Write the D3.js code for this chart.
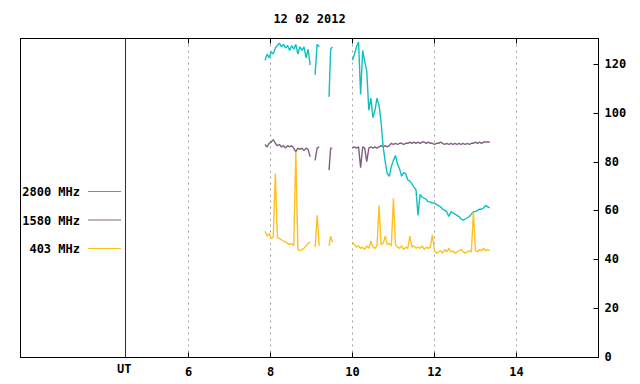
<!DOCTYPE html>
<html><head><meta charset="utf-8">
<script src="https://cdn.jsdelivr.net/npm/d3@7"></script>
<style>body{margin:0;background:#fff}svg text{font-family:"DejaVu Sans Mono",monospace;font-weight:bold;font-size:12px;fill:#000}</style>
</head><body><svg id="c" width="640" height="384"></svg>
<script>
const title = "12 02 2012";
const times = [
7.87,7.92,7.97,8.02,8.07,8.12,8.17,8.22,8.27,8.32,8.37,8.42,8.47,8.52,8.57,8.62,8.67,8.72,8.77,8.82,8.87,8.92,8.97,
9.03,
9.09,9.14,9.19,
9.30,
9.43,9.47,9.51,
9.75,
10.00,10.05,10.10,10.15,10.20,10.25,10.30,10.35,10.40,10.45,10.50,10.55,10.60,10.65,10.70,10.75,10.80,10.85,10.90,10.95,
11.00,11.05,11.10,11.15,11.20,11.25,11.30,11.35,11.40,11.45,11.50,11.55,11.60,11.65,11.70,11.75,11.80,11.85,11.90,11.95,
12.00,12.05,12.10,12.15,12.20,12.25,12.30,12.35,12.40,12.45,12.50,12.55,12.60,12.65,12.70,12.75,12.80,12.85,12.90,12.95,
13.00,13.05,13.10,13.15,13.20,13.25,13.30,13.35];
const s2800 = [
121.5,124,122.5,125,124,126.5,127.5,128.5,127,128,126.5,127.5,125.5,127.5,126,128,124,127,125.5,127,122.5,126,119.5,
null,
115.5,128,127,
null,
106.5,126,127,
null,
121.5,124,127,129,107.5,125.5,121,117,101,106,98,101,106,103,96,86,80,75,74,78,
80.5,82.5,79,77,74,75.5,75,72.5,72,71,69.5,68.5,58,66.5,65.5,65,64.5,63.5,63.5,63,
63,62.5,62,61.5,60.5,60,59.5,57.5,59.5,59,58.5,58,57.5,56.5,56,56.5,57,57.5,58.5,59.5,
59.5,60,60.5,60.5,61,62,61.5,61];
const s1580 = [
87,86,87.5,88,89,87.5,86.5,87,86,86.5,85.5,86.5,86,86.5,85.5,84,85.5,85,85.5,84.5,85.5,85,82,
null,
80.5,85.5,86,
null,
76.5,85.5,85.5,
null,
85.5,86,85.5,86,77.5,86,85.5,80,85.5,86,85.5,86,85.5,86,86.5,86,86.5,86,86.5,87.5,
87,87.5,87,87.5,87.5,87,87.5,87.5,88,87.5,88,87.5,88,87.5,88,88,87.5,88,87.5,87.5,
87,87.5,87.5,88,87.5,87,87.5,87,87.5,87,87.5,87,87.5,87,87.5,87,87.5,87,87.5,87.5,
88,87.5,88,87.5,88,88,88,88];
const s403 = [
51.5,49.5,50.5,48.5,49,75,49,48.5,48,47.5,47,46.5,46,46.5,45.5,84,44,43.5,44,44.5,45.5,46.5,47,
null,
45,58,45.5,
null,
45.5,49.5,47,
null,
47,46,45,45.5,44.5,45,44,45.5,44.5,47.5,45,44.5,45.5,62,46,46.5,49.5,46,46.5,45.5,
65,46,45,44.5,45.5,44,45,44.5,49.5,45,45.5,44.5,45,44.5,45.5,44,45,44.5,45,50,
43.5,42.5,43,43.5,42.5,44,43,44.5,43,43.5,42.5,43,43.5,44,43,42.5,43,43.5,43,59.5,
43.5,43,44,43.5,44.5,43.5,44,43.5];
const xTicks = [6,8,10,12,14];
const yTicks = [0,20,40,60,80,100,120];
const utLabel = "UT";
const utHour = 4.46;
const legendLabels = ["2800 MHz","1580 MHz","403 MHz"];
const colors = ["#10c0c0","#806080","#ffc020"];

const svg = d3.select("#c");
const L = 20.5, R = 598.5, T = 38.5, B = 357.5;
const x = d3.scaleLinear().domain([1.92, 16]).range([21, 598.5]);
const y = d3.scaleLinear().domain([0, 130.6]).range([357, 38]);
const px = v => Math.round(x(v)) + 0.5;

// grid
svg.append("g").selectAll("line").data(xTicks).join("line")
  .attr("x1", px).attr("x2", px).attr("y1", T).attr("y2", B)
  .attr("stroke", "#a0a0a0").attr("stroke-dasharray", "2,4");

// UT separator
svg.append("line").attr("x1", px(utHour)).attr("x2", px(utHour)).attr("y1", T).attr("y2", B)
  .attr("stroke", "#990000");
svg.append("text").attr("x", x(utHour) - 1).attr("y", 373).attr("text-anchor", "middle").text(utLabel);

// series
const series = [
  {name: legendLabels[1], vals: s1580, color: colors[1]},
  {name: legendLabels[0], vals: s2800, color: colors[0]},
  {name: legendLabels[2], vals: s403, color: colors[2]}
];
const line = d3.line().defined(d => d[1] != null).x(d => x(d[0])).y(d => y(d[1]));
series.forEach(s => {
  svg.append("path").datum(times.map((t, i) => [t, s.vals[i]]))
    .attr("d", line).attr("fill", "none").attr("stroke", s.color).attr("stroke-width", 1.4)
    .attr("stroke-linejoin", "bevel");
});

// axes
const gb = svg.append("g").attr("transform", `translate(0,${B})`)
  .call(d3.axisBottom(x).tickValues(xTicks).tickSize(-5).tickPadding(10).tickFormat(d3.format("d")));
const gt = svg.append("g").attr("transform", `translate(0,${T})`)
  .call(d3.axisTop(x).tickValues(xTicks).tickSize(-5).tickFormat(""));
const gr = svg.append("g").attr("transform", `translate(${R},0)`)
  .call(d3.axisRight(y).tickValues(yTicks).tickSize(-5).tickPadding(6).tickFormat(d3.format("d")));
[gb, gt, gr].forEach(g => {
  g.select(".domain").remove();
  g.selectAll(".tick line").attr("stroke", "#000");
  g.selectAll("text").attr("font-family", null).attr("font-size", null);
});
gb.selectAll(".tick").attr("transform", d => `translate(${px(d)},0)`);
gt.selectAll(".tick").attr("transform", d => `translate(${px(d)},0)`);
gr.selectAll(".tick").attr("transform", d => `translate(0,${Math.round(y(d)) + 0.5})`);

// frame
svg.append("rect").attr("x", L).attr("y", T).attr("width", R - L).attr("height", B - T)
  .attr("fill", "none").attr("stroke", "#000");

// legend
legendLabels.forEach((lab, i) => {
  const cy = 191.5 + i * 28.5;
  svg.append("text").attr("x", 80).attr("y", cy + 4.5).attr("text-anchor", "end").text(lab);
  svg.append("line").attr("x1", 88).attr("x2", 121).attr("y1", cy).attr("y2", cy)
    .attr("stroke", colors[i]);
});

// title
svg.append("text").attr("x", (L + R) / 2).attr("y", 23).attr("text-anchor", "middle").text(title);
</script></body></html>
